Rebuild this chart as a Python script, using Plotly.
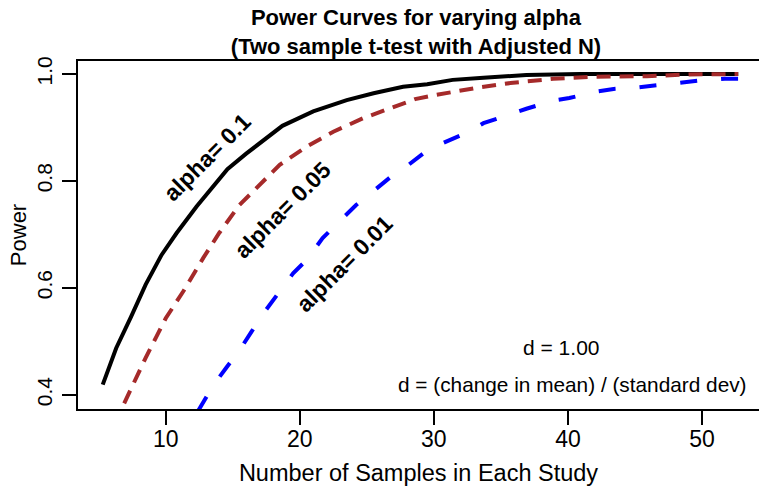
import plotly.graph_objects as go

# ---- data ----
x_a10 = [5.3, 6.3, 7.4, 8.5, 9.7, 10.8, 12.3, 13.5, 14.6, 16.0, 17.5, 18.7, 21.0, 23.5, 25.5,
         27.7, 29.5, 31.4, 33.7, 36.9, 40.9, 45.0, 49.0, 52.7]
p_a10 = [0.419, 0.487, 0.545, 0.606, 0.662, 0.702, 0.752, 0.789, 0.822, 0.851, 0.880, 0.903,
         0.930, 0.951, 0.964, 0.976, 0.981, 0.989, 0.993, 0.998, 1.000, 1.000, 1.000, 1.000]

x_a05 = [6.9, 8.5, 10.0, 11.3, 12.8, 14.0, 15.5, 17.0, 18.5, 20.5, 22.5, 24.7, 27.0, 28.6,
         30.2, 33.4, 35.7, 38.9, 41.9, 45.9, 49.0, 52.7]
p_a05 = [0.384, 0.469, 0.543, 0.593, 0.656, 0.703, 0.755, 0.793, 0.830, 0.864, 0.892, 0.917,
         0.939, 0.953, 0.961, 0.975, 0.983, 0.991, 0.995, 0.996, 0.999, 1.000]

x_a01 = [12.4, 13.5, 14.5, 15.6, 16.4, 17.4, 18.4, 19.5, 20.5, 21.7, 22.7, 24.2, 25.3, 26.8,
         27.9, 29.4, 30.6, 32.6, 33.7, 35.7, 36.9, 38.9, 40.1, 42.1, 43.4, 45.2, 46.6, 48.3,
         49.9, 51.7, 52.7]
p_a01 = [0.369, 0.416, 0.450, 0.487, 0.518, 0.556, 0.590, 0.627, 0.652, 0.693, 0.718, 0.755,
         0.777, 0.808, 0.826, 0.855, 0.870, 0.892, 0.908, 0.925, 0.935, 0.950, 0.955, 0.967,
         0.972, 0.975, 0.979, 0.983, 0.988, 0.991, 0.991]

x_ticks = [10, 20, 30, 40, 50]
y_ticks = [0.4, 0.6, 0.8, 1.0]
y_ticktext = ["0.4", "0.6", "0.8", "1.0"]

curve_labels = ["alpha= 0.1", "alpha= 0.05", "alpha= 0.01"]
label_x = [13.1, 18.7, 23.3]
label_y = [0.845, 0.746, 0.645]

FONT = "Liberation Sans, Arial, Helvetica, sans-serif"

fig = go.Figure()
fig.add_trace(go.Scatter(x=x_a10, y=p_a10, mode="lines",
                         line=dict(color="black", width=4), showlegend=False))
fig.add_trace(go.Scatter(x=x_a05, y=p_a05, mode="lines",
                         line=dict(color="#A52A2A", width=4, dash="14px,9px"), showlegend=False))
fig.add_trace(go.Scatter(x=x_a01, y=p_a01, mode="lines",
                         line=dict(color="#0000FF", width=4, dash="17px,24px"), showlegend=False))

for t, lx, ly in zip(curve_labels, label_x, label_y):
    fig.add_annotation(x=lx, y=ly, text="<b>" + t + "</b>", showarrow=False, textangle=-45,
                       font=dict(family=FONT, size=23, color="black"),
                       xanchor="center", yanchor="middle")

fig.add_annotation(x=39.5, y=0.488, text="d = 1.00", showarrow=False,
                   font=dict(family=FONT, size=21, color="black"))
fig.add_annotation(x=40.35, y=0.419, text="d = (change in mean) / (standard dev)", showarrow=False,
                   font=dict(family=FONT, size=20.8, color="black"))

fig.update_layout(
    width=759, height=494,
    margin=dict(l=78, r=0, t=61, b=85),
    paper_bgcolor="white", plot_bgcolor="white",
    font=dict(family=FONT, color="black"),
    title=dict(text="<b>Power Curves for varying alpha<br>(Two sample t-test with Adjusted N)</b>",
               x=416 / 759, xref="container", xanchor="center",
               y=1 - 25 / 494, yref="container", yanchor="middle",
               font=dict(family=FONT, size=22, color="black")),
    xaxis=dict(range=[3.455, 54.25], tickvals=x_ticks, ticks="outside", ticklen=14,
               tickwidth=1.5, tickcolor="black", showline=True, linewidth=2, linecolor="black",
               mirror=True, showgrid=False, zeroline=False, ticklabelstandoff=-6,
               tickfont=dict(family=FONT, size=23),
               title=dict(text="Number of Samples in Each Study", standoff=14,
                          font=dict(family=FONT, size=23.5))),
    yaxis=dict(range=[0.3733, 1.0243], tickvals=y_ticks, ticktext=y_ticktext, tickangle=-90,
               ticks="outside", ticklen=14, tickwidth=1.5, tickcolor="black",
               showline=True, linewidth=2, linecolor="black", showgrid=False, zeroline=False,
               ticklabelstandoff=2,
               tickfont=dict(family=FONT, size=21),
               title=dict(text="Power", standoff=0, font=dict(family=FONT, size=22))),
)

fig.write_html("out.html")
